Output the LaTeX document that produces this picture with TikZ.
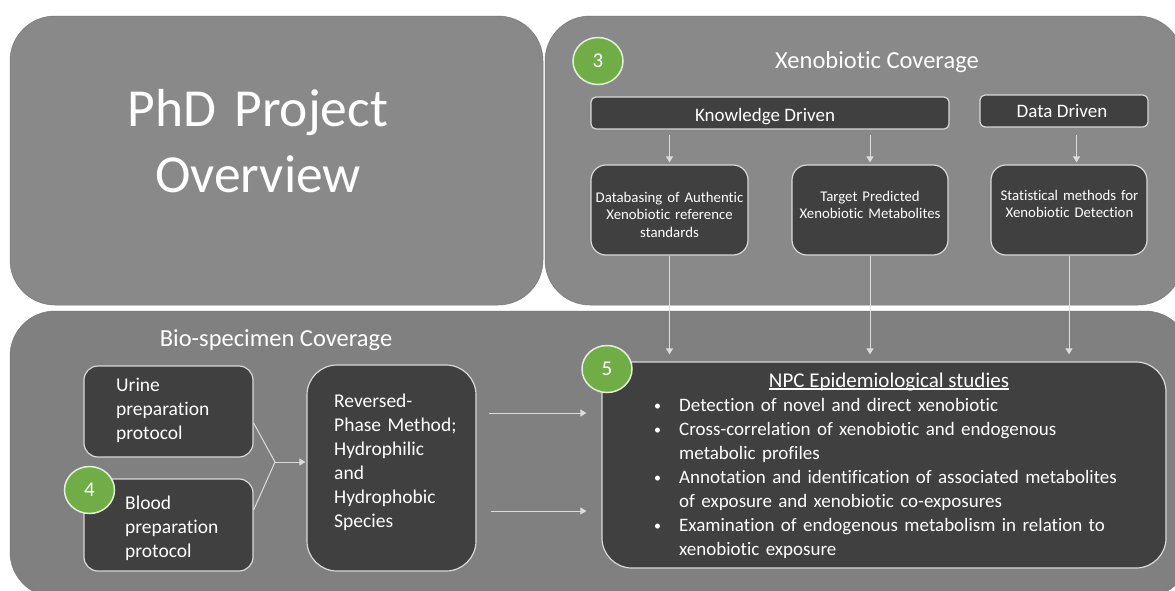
\documentclass[tikz,border=0pt]{standalone}
\usepackage{fontspec}
\setmainfont{Carlito}[Ligatures={NoCommon}]
\usetikzlibrary{arrows.meta,shapes.geometric}
\definecolor{panelFill}{HTML}{898989}
\definecolor{panelLow}{HTML}{808080}
\definecolor{panelEdge}{HTML}{777777}
\definecolor{darkFill}{HTML}{404040}
\definecolor{lightEdge}{HTML}{D9D9D9}
\definecolor{badgeGreen}{HTML}{70AD47}
\definecolor{badgeEdge}{HTML}{E2F0D9}
\definecolor{linkGray}{HTML}{DCDCDC}
% underline that sits just under the baseline, through the descenders
\newcommand\headunderline[1]{\setbox0\hbox{#1}\rlap{\rule[-2.5pt]{\wd0}{1.1pt}}\box0}
% small list bullet followed by the hanging gap
\newcommand\listdot{\makebox[25pt][l]{\raisebox{0.5pt}{\fontsize{14}{14}\selectfont\textbullet}}}

\begin{document}
\begin{tikzpicture}[x=1pt,y=-1pt,
  panel/.style={draw=panelEdge, line width=0.5pt, rounded corners=45pt, inner sep=0pt},
  darkbox/.style={draw=lightEdge, fill=darkFill, line width=1.2pt, inner sep=0pt},
  badge/.style={ellipse, draw=badgeEdge, fill=badgeGreen, line width=1.5pt,
    minimum width=50pt, minimum height=47pt, inner sep=0pt, text=white,
    font=\fontsize{21}{24}\selectfont},
  txt/.style={text=white, inner sep=0pt},
  link/.style={draw=linkGray, line width=1pt},
  arr/.style={link, -{Triangle[length=6pt,width=7pt]}},
  bigfont/.style={font=\fontsize{53.5}{66}\selectfont},
  headfont/.style={font=\fontsize{24.5}{28}\selectfont},
  tagfont/.style={font=\fontsize{19}{23}\selectfont},
  smallfont/.style={font=\fontsize{14.8}{17.5}\selectfont},
  bodyfont/.style={font=\fontsize{19.5}{24}\selectfont},
]
\useasboundingbox (0,0) rectangle (1175,590);
\fill[white] (0,0) rectangle (1175,590);
\clip (0,0) rectangle (1175,590);

% ---- background panels ----
\node[panel, fill=panelFill, minimum width=533pt, minimum height=289pt] (overview) at (276.5,160.5) {};
\node[panel, fill=panelFill, minimum width=638pt, minimum height=289pt] (xeno) at (864,160.5) {};
\node[panel, fill=panelLow, minimum width=1180pt, minimum height=286pt] (bio) at (600,454) {};

% ---- panel titles ----
\node[txt, bigfont, anchor=base, text width=420pt, align=center] (overviewTitle) at (258,126) {PhD Project\\Overview};
\node[txt, headfont, anchor=base] (xenoTitle) at (877,68) {Xenobiotic Coverage};
\node[txt, headfont, anchor=base] (bioTitle) at (276,346) {Bio-specimen Coverage};

% ---- xenobiotic coverage ----
\node[darkbox, rounded corners=5pt, minimum width=358pt, minimum height=32pt] (kd) at (770,113) {};
\node[txt, tagfont, anchor=base] (kdText) at (765,121) {Knowledge Driven};
\node[darkbox, rounded corners=5pt, minimum width=168pt, minimum height=32pt] (dd) at (1064,111) {};
\node[txt, tagfont, anchor=base] (ddText) at (1062,117) {Data Driven};

\node[darkbox, rounded corners=15pt, minimum width=157pt, minimum height=90pt] (db) at (669.5,210) {};
\node[txt, smallfont, anchor=base, text width=150pt, align=center] (dbText) at (669.5,202)
  {Databasing of Authentic\\Xenobiotic reference\\standards};
\node[darkbox, rounded corners=15pt, minimum width=156pt, minimum height=90pt] (tp) at (870,210) {};
\node[txt, smallfont, anchor=base, text width=150pt, align=center] (tpText) at (870,201)
  {Target Predicted\\Xenobiotic Metabolites};
\node[darkbox, rounded corners=15pt, minimum width=156pt, minimum height=90pt] (st) at (1069,210) {};
\node[txt, smallfont, anchor=base, text width=150pt, align=center] (stText) at (1069.5,200)
  {Statistical methods for\\Xenobiotic Detection};

% ---- bio-specimen coverage ----
\node[darkbox, rounded corners=14pt, minimum width=169pt, minimum height=91pt] (urine) at (168.5,411.5) {};
\node[txt, bodyfont, anchor=base west, text width=130pt, align=left] (urineText) at (116,391)
  {Urine\\preparation\\protocol};
\node[darkbox, rounded corners=14pt, minimum width=169pt, minimum height=92pt] (blood) at (168.5,525) {};
\node[txt, bodyfont, anchor=base west, text width=120pt, align=left] (bloodText) at (125,509)
  {Blood\\preparation\\protocol};
\node[darkbox, rounded corners=30pt, minimum width=169pt, minimum height=206pt] (rp) at (391.5,468) {};
\node[txt, bodyfont, anchor=base west, text width=140pt, align=left] (rpText) at (334,407)
  {Reversed-\\Phase Method;\\Hydrophilic\\and\\Hydrophobic\\Species};

% ---- epidemiological studies ----
\node[darkbox, rounded corners=30pt, minimum width=564pt, minimum height=206pt] (npc) at (884,465) {};
\node[txt, font=\fontsize{21}{24}\selectfont, anchor=base] (npcTitle) at (889,387)
  {\headunderline{NPC Epidemiological studies}};
\node[txt, font=\fontsize{19}{24}\selectfont, anchor=base west, text width=490pt, align=left] (npcList) at (654,411)
  {\listdot Detection of novel and direct xenobiotic\\
   \listdot Cross-correlation of xenobiotic and endogenous\\
   \hspace*{25pt}metabolic profiles\\
   \listdot Annotation and identification of associated metabolites\\
   \hspace*{25pt}of exposure and xenobiotic co-exposures\\
   \listdot Examination of endogenous metabolism in relation to\\
   \hspace*{25pt}xenobiotic exposure};

% ---- connectors ----
\draw[arr, shorten <=5pt, shorten >=2pt] (kd.south -| db.north) -- (db.north);
\draw[arr, shorten <=5pt, shorten >=2pt] (kd.south -| tp.north) -- (tp.north);
\coordinate (ddFoot) at ([xshift=12.5pt]dd.south);
\draw[arr, shorten <=7pt, shorten >=2pt] (ddFoot) -- (ddFoot |- st.north);

\draw[arr, shorten >=7pt] (db.south) -- (db.south |- npc.north);
\draw[arr, shorten >=7pt] (tp.south) -- (tp.south |- npc.north);
\draw[arr, shorten >=7pt] (st.south) -- (st.south |- npc.north);

\coordinate (merge) at (275,462);
\draw[link] ([yshift=-11.5pt]urine.east) -- (merge);
\draw[link] ([yshift=15pt]blood.east) -- (merge);
\draw[arr, shorten >=1pt] (merge) -- (merge -| rp.west);

\coordinate (rpOutA) at ([yshift=55pt]rp.east);
\coordinate (rpOutB) at ([yshift=-43pt]rp.east);
\draw[arr, shorten <=12pt, shorten >=15pt] (rpOutA) -- (rpOutA -| npc.west);
\draw[arr, shorten <=14pt, shorten >=15pt] (rpOutB) -- (rpOutB -| npc.west);

% ---- step badges ----
\node[badge] (b3) at (598,61) {3};
\node[badge] (b4) at (89.5,490) {4};
\node[badge] (b5) at (607,369) {5};
\end{tikzpicture}
\end{document}
